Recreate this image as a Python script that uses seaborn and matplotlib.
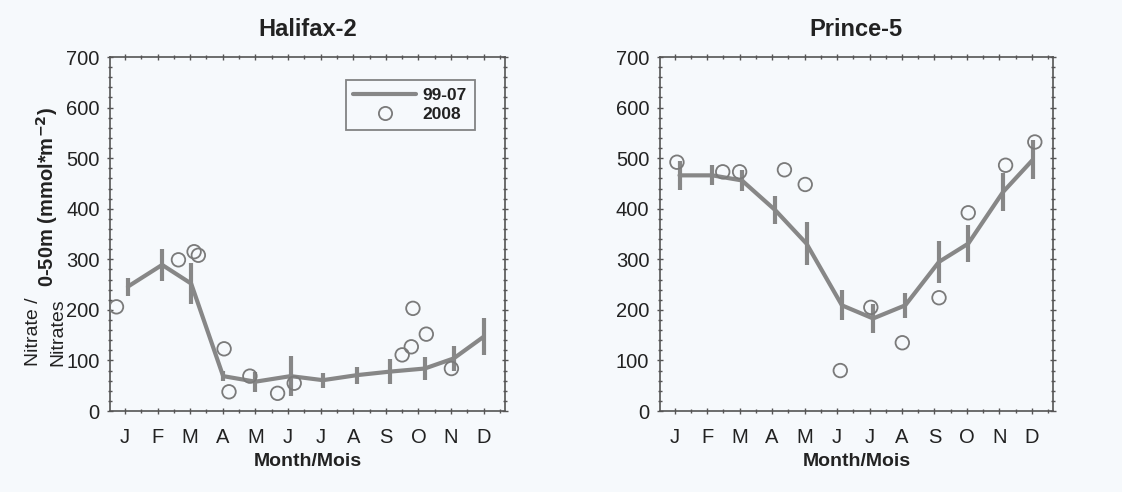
import numpy as np
import pandas as pd
import matplotlib
matplotlib.use("Agg")
import matplotlib.pyplot as plt
from matplotlib.ticker import MultipleLocator
from matplotlib.lines import Line2D
import seaborn as sns

# ---------------- data ----------------
month_labels = ["J", "F", "M", "A", "M", "J", "J", "A", "S", "O", "N", "D"]

# Halifax-2 : 1999-2007 climatology (mean +/- error) and 2008 observations
hal_clim_x = [0.59, 1.64, 2.53, 3.51, 4.50, 5.58, 6.57, 7.62, 8.64, 9.69, 10.58, 11.50]
hal_clim_y = [246, 289, 252, 69, 58, 69, 61, 71, 78, 84, 104, 147]
hal_clim_e = [18, 31, 40, 10, 20, 40, 15, 17, 25, 22, 25, 37]
hal_obs_x = [0.24, 2.14, 2.62, 2.75, 3.54, 3.69, 4.33, 5.18, 5.69, 9.00, 9.28, 9.33, 9.74, 10.51]
hal_obs_y = [206, 299, 315, 308, 123, 38, 69, 35, 55, 111, 127, 203, 152, 84]

# Prince-5
pr_clim_x = [0.65, 1.66, 2.57, 3.60, 4.56, 5.65, 6.61, 7.60, 8.64, 9.54, 10.61, 11.53]
pr_clim_y = [466, 466, 456, 397, 331, 209, 183, 209, 295, 331, 433, 497]
pr_clim_e = [28, 20, 20, 28, 43, 30, 29, 25, 41, 37, 38, 38]
pr_obs_x = [0.57, 1.98, 2.50, 3.88, 4.52, 5.60, 6.54, 7.51, 8.64, 9.54, 10.69, 11.59]
pr_obs_y = [492, 473, 473, 477, 448, 80, 205, 135, 224, 392, 486, 532]

titles = ["Halifax-2", "Prince-5"]
legend_labels = ["99-07", "2008"]

# ---------------- style ----------------
sns.set_theme(style="ticks")
plt.rcParams["font.family"] = ["Liberation Sans", "DejaVu Sans"]
BG = "#f6f9fc"
GRAY = "#878787"
TXT = "#222222"

fig = plt.figure(figsize=(11.22, 4.92), dpi=100, facecolor=BG)
ax1 = fig.add_axes([0.098, 0.1646, 0.352, 0.7195])
ax2 = fig.add_axes([0.588, 0.1646, 0.3505, 0.7195])

panels = [
    (ax1, hal_clim_x, hal_clim_y, hal_clim_e, hal_obs_x, hal_obs_y, titles[0]),
    (ax2, pr_clim_x, pr_clim_y, pr_clim_e, pr_obs_x, pr_obs_y, titles[1]),
]

for ax, cx, cy, ce, ox, oy, title in panels:
    ax.set_facecolor(BG)
    clim = pd.DataFrame({"x": cx, "y": cy, "e": ce})
    obs = pd.DataFrame({"x": ox, "y": oy})
    sns.lineplot(data=clim, x="x", y="y", ax=ax, color=GRAY, lw=3.0,
                 sort=False, zorder=3)
    ax.errorbar(clim["x"], clim["y"], yerr=clim["e"], fmt="none",
                ecolor=GRAY, elinewidth=3.0, capsize=0, zorder=3)
    sns.scatterplot(data=obs, x="x", y="y", ax=ax, marker="o", s=95,
                    facecolor="none", edgecolor="#7a7a7a", linewidth=1.3,
                    zorder=4)
    ax.set_xlim(0.04, 12.15)
    ax.set_ylim(0, 700)
    ax.set_xticks(np.arange(12) + 0.5)
    ax.set_xticklabels(month_labels)
    ax.xaxis.set_minor_locator(MultipleLocator(1.0))
    ax.yaxis.set_major_locator(MultipleLocator(100))
    ax.yaxis.set_minor_locator(MultipleLocator(20))
    ax.tick_params(which="both", direction="inout", top=True, right=True,
                   colors="#555555", labelcolor=TXT, width=1.0)
    ax.tick_params(axis="y", which="major", labelsize=14.5, length=5, pad=5)
    ax.tick_params(axis="x", which="major", labelsize=14.5, length=5, pad=10)
    ax.tick_params(which="minor", length=3.5)
    for sp in ax.spines.values():
        sp.set_color("#555555")
        sp.set_linewidth(1.2)
    ax.set_xlabel("Month/Mois", fontsize=14, fontweight="bold", color=TXT, labelpad=4)
    ax.set_ylabel("")
    ax.set_title(title, fontsize=17, fontweight="bold", color=TXT, pad=15)

# legend on the left panel
handles = [Line2D([0], [0], color=GRAY, lw=3.0),
           Line2D([0], [0], marker="o", ls="none", markersize=9.5,
                  markerfacecolor="none", markeredgecolor="#7a7a7a", markeredgewidth=1.3)]
leg = ax1.legend(handles, legend_labels, loc="upper right",
                 bbox_to_anchor=(0.924, 0.935), frameon=True, fancybox=False,
                 handlelength=3.6, handletextpad=0.4, borderpad=0.45,
                 labelspacing=0.25, borderaxespad=0,
                 prop={"weight": "bold", "size": 12.5})
leg.get_frame().set_edgecolor("#666666")
leg.get_frame().set_linewidth(1.3)
leg.get_frame().set_facecolor(BG)
for t in leg.get_texts():
    t.set_color(TXT)

# y-axis label (composed of two parts)
fig.text(0.042, 0.60, "0-50m (mmol*m$^{\\mathbf{-2}}$)", rotation=90,
         fontsize=14.5, fontweight="bold", color=TXT, ha="center", va="center")
fig.text(0.030, 0.325, "Nitrate /", rotation=90, fontsize=14,
         color=TXT, ha="center", va="center")
fig.text(0.052, 0.325, "Nitrates", rotation=90, fontsize=14,
         color=TXT, ha="center", va="center")

fig.savefig("out.png", dpi=100, facecolor=BG)
